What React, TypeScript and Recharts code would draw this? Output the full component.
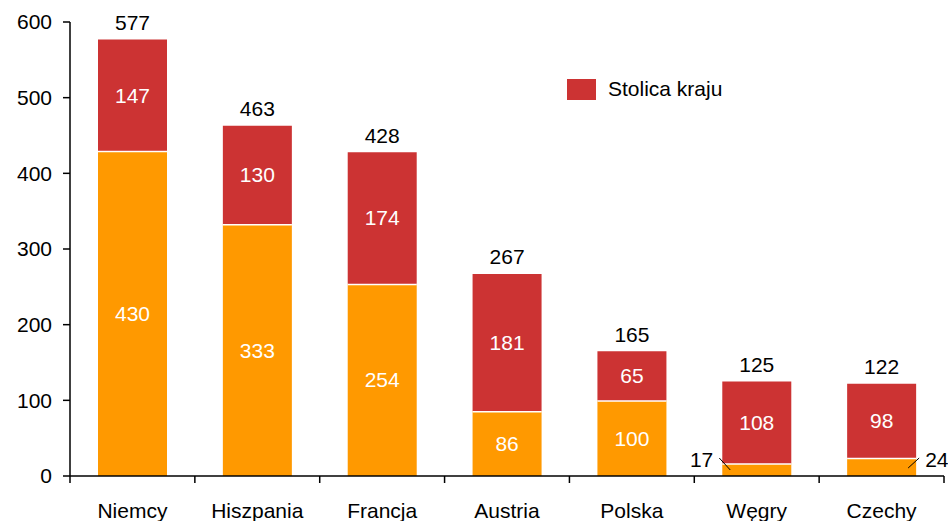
import React from 'react';
import { BarChart, Bar, XAxis, YAxis, LabelList } from 'recharts';

const countries = ['Niemcy', 'Hiszpania', 'Francja', 'Austria', 'Polska', 'Węgry', 'Czechy'];
const regionValues = [430, 333, 254, 86, 100, 17, 24];
const capitalValues = [147, 130, 174, 181, 65, 108, 98];
const totals = [577, 463, 428, 267, 165, 125, 122];
// where the lower-segment label goes: inside the bar, or outside with a leader line
const regionLabelSide = ['in', 'in', 'in', 'in', 'in', 'left', 'right'];
const yTicks = [0, 100, 200, 300, 400, 500, 600];

const data = countries.map((name, i) => ({
  name,
  region: regionValues[i],
  capital: capitalValues[i],
  total: totals[i],
}));

const W = 948;
const H = 521;
const MARGIN = { top: 22, right: 4, left: 0, bottom: 0 };
const Y_AXIS_W = 70;
const X_AXIS_H = 45;
const AXIS_Y = H - MARGIN.bottom - X_AXIS_H;
const BAND = (W - MARGIN.left - MARGIN.right - Y_AXIS_W) / countries.length;

const ORANGE = '#FF9900';
const RED = '#CC3333';
const FONT = '"Liberation Sans", Arial, sans-serif';
const FS = 21;

// orange segment with a thin white separator on top
const RegionShape = (props: any) => {
  const { x, y, width, height } = props;
  return (
    <g>
      <rect x={x} y={y} width={width} height={height} fill={ORANGE} />
      <line x1={x} x2={x + width} y1={y + 0.5} y2={y + 0.5} stroke="#fff" strokeWidth={2} />
    </g>
  );
};

const RegionLabel = (props: any) => {
  const { x, y, width, height, value, index } = props;
  const side = regionLabelSide[index];
  if (side === 'left') {
    const bx = x;
    const by = y + height;
    return (
      <g>
        <line x1={bx + 8} y1={by - 6} x2={bx - 3} y2={by - 18} stroke="#000" strokeWidth={1} />
        <text x={bx - 9} y={by - 17} textAnchor="end" dominantBaseline="central" fill="#000" fontSize={FS} fontFamily={FONT}>
          {value}
        </text>
      </g>
    );
  }
  if (side === 'right') {
    const bx = x + width;
    const by = y + height;
    return (
      <g>
        <line x1={bx - 8} y1={by - 8} x2={bx + 3} y2={by - 18} stroke="#000" strokeWidth={1} />
        <text x={bx + 9} y={by - 17} textAnchor="start" dominantBaseline="central" fill="#000" fontSize={FS} fontFamily={FONT}>
          {value}
        </text>
      </g>
    );
  }
  return (
    <text x={x + width / 2} y={y + height / 2} textAnchor="middle" dominantBaseline="central" fill="#fff" fontSize={FS} fontFamily={FONT}>
      {value}
    </text>
  );
};

const CapitalLabel = (props: any) => {
  const { x, y, width, height, value } = props;
  return (
    <text x={x + width / 2} y={y + height / 2} textAnchor="middle" dominantBaseline="central" fill="#fff" fontSize={FS} fontFamily={FONT}>
      {value}
    </text>
  );
};

const TotalLabel = (props: any) => {
  const { x, y, width, index } = props;
  return (
    <text x={x + width / 2} y={y - 17} textAnchor="middle" dominantBaseline="central" fill="#000" fontSize={FS} fontFamily={FONT}>
      {totals[index]}
    </text>
  );
};

// category labels with tick marks drawn between categories
const CountryTick = (props: any) => {
  const { x, payload, index } = props;
  const left = x - BAND / 2;
  return (
    <g>
      <line x1={left} x2={left} y1={AXIS_Y} y2={AXIS_Y + 7} stroke="#000" strokeWidth={1.5} />
      {index === countries.length - 1 ? (
        <line x1={x + BAND / 2} x2={x + BAND / 2} y1={AXIS_Y} y2={AXIS_Y + 7} stroke="#000" strokeWidth={1.5} />
      ) : null}
      <text x={x} y={AXIS_Y + 34} textAnchor="middle" dominantBaseline="central" fill="#000" fontSize={FS} fontFamily={FONT}>
        {payload.value}
      </text>
    </g>
  );
};

export default function App() {
  return (
    <div style={{ position: 'absolute', left: 0, top: 0, width: W, height: H, background: '#fff' }}>
      <BarChart width={W} height={H} data={data} margin={MARGIN} barSize={69}>
        <XAxis
          dataKey="name"
          height={X_AXIS_H}
          tickLine={false}
          axisLine={{ stroke: '#000', strokeWidth: 1.5 }}
          tick={<CountryTick />}
          interval={0}
        />
        <YAxis
          width={Y_AXIS_W}
          domain={[0, 600]}
          ticks={yTicks}
          interval={0}
          tickSize={7}
          tickMargin={11}
          axisLine={{ stroke: '#000', strokeWidth: 1.5 }}
          tickLine={{ stroke: '#000', strokeWidth: 1.5 }}
          tick={{ fill: '#000', fontSize: FS, fontFamily: FONT }}
        />
        <Bar dataKey="region" stackId="a" fill={ORANGE} shape={<RegionShape />} isAnimationActive={false}>
          <LabelList dataKey="region" content={<RegionLabel />} />
        </Bar>
        <Bar dataKey="capital" stackId="a" fill={RED} isAnimationActive={false}>
          <LabelList dataKey="capital" content={<CapitalLabel />} />
          <LabelList dataKey="total" content={<TotalLabel />} />
        </Bar>
      </BarChart>
      <div
        style={{
          position: 'absolute',
          left: 567,
          top: 77,
          display: 'flex',
          alignItems: 'center',
          fontFamily: FONT,
          fontSize: FS,
          color: '#000',
        }}
      >
        <span style={{ display: 'inline-block', width: 29, height: 21, background: RED, marginRight: 12 }} />
        <span>Stolica kraju</span>
      </div>
    </div>
  );
}
